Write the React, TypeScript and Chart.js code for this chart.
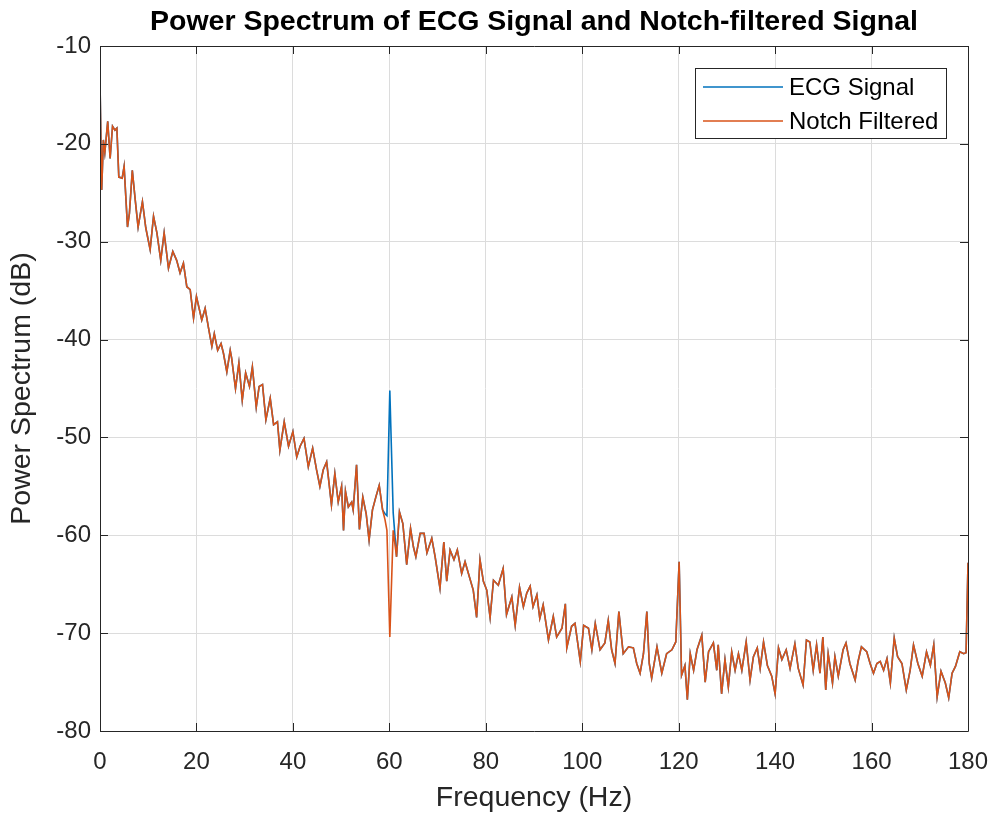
import React, { useEffect, useRef } from "react";
import { Chart, registerables } from "chart.js";

Chart.register(...registerables);

const TITLE = "Power Spectrum of ECG Signal and Notch-filtered Signal";
const X_LABEL = "Frequency (Hz)";
const Y_LABEL = "Power Spectrum (dB)";
const SERIES_NAMES = ["ECG Signal", "Notch Filtered"];
const X_TICKS = [0, 20, 40, 60, 80, 100, 120, 140, 160, 180];
const Y_TICKS = [-80, -70, -60, -50, -40, -30, -20, -10];

// Notch-filtered spectrum (Hz, dB)
const freqs = [
  0, 0.35, 0.7, 1.0, 1.6, 2.1, 2.6, 3.1, 3.5, 3.9, 4.6, 5.0, 5.7, 6.1, 6.7, 7.3, 7.9, 8.8, 9.5,
  10.4, 11.1, 11.8, 12.6, 13.3, 14.2, 15.1, 15.9, 16.6, 17.3, 18.0, 18.7, 19.4, 20.0, 21.1, 21.8,
  22.5, 23.2, 23.7, 24.4, 25.1, 25.6, 26.3, 27.0, 27.3, 28.1, 28.8, 29.5, 30.2, 31.0, 31.6, 32.4,
  33.0, 33.7, 34.4, 35.3, 36.0, 36.8, 37.3, 38.2, 39.1, 40.0, 40.8, 41.5, 42.3, 43.2, 44.1, 44.9,
  45.6, 46.3, 47.0, 48.0, 48.7, 49.4, 50.1, 50.5, 50.9, 51.5, 52.2, 52.5, 53.2, 53.8, 54.5, 55.2,
  55.8, 56.5, 57.2, 57.9, 58.6, 59.1, 59.5, 60.1, 60.8, 61.5, 62.1, 62.8, 63.6, 64.4, 65.0, 65.5,
  66.4, 67.2, 67.8, 68.8, 69.5, 70.5, 71.3, 71.9, 72.6, 73.4, 74.1, 75.0, 75.7, 76.4, 77.4, 78.1,
  78.8, 79.5, 80.2, 80.9, 81.6, 82.6, 83.6, 84.3, 85.4, 86.1, 87.0, 87.8, 88.5, 89.2, 89.8, 90.6,
  91.2, 91.9, 93.0, 94.0, 94.7, 95.8, 96.5, 96.8, 97.8, 98.5, 99.6, 100.3, 101.3, 102.0, 102.7,
  103.7, 104.7, 105.4, 106.1, 106.8, 107.6, 108.5, 109.6, 110.6, 111.3, 112.0, 112.7, 113.4, 113.9,
  114.4, 115.5, 116.5, 117.5, 118.6, 119.4, 120.1, 120.6, 121.3, 121.8, 122.4, 123.1, 123.8, 124.8,
  125.5, 126.2, 127.2, 127.9, 128.2, 128.9, 129.6, 130.3, 131.0, 131.7, 132.4, 133.1, 134.0, 134.8,
  135.5, 136.3, 136.9, 137.6, 138.4, 139.3, 140.0, 140.7, 141.4, 142.3, 143.1, 144.1, 144.8, 145.8,
  146.5, 147.2, 147.9, 148.6, 149.3, 149.9, 150.5, 151.0, 151.9, 152.4, 153.1, 154.1, 154.7, 155.5,
  156.6, 157.2, 157.9, 159.0, 159.7, 160.4, 161.1, 161.8, 162.5, 163.2, 163.9, 164.7, 165.4, 166.3,
  167.2, 168.0, 168.7, 169.6, 170.5, 171.4, 172.2, 172.9, 173.6, 174.4, 175.3, 176.0, 176.7, 177.4,
  178.3, 179.1, 179.6, 180.0,
];

const notchValues = [
  -13.6, -24.7, -19.6, -20.9, -17.7, -21.5, -18.2, -18.6, -18.4, -23.4, -23.5, -22.3, -28.5, -27.1, -22.7, -25.7, -28.5, -25.9, -28.6,
  -30.8, -27.4, -29.1, -31.9, -29.1, -32.7, -31.0, -31.9, -33.2, -32.2, -34.6, -34.9, -37.8, -35.6, -38.0, -36.8,
  -38.8, -40.7, -39.4, -41.1, -40.4, -41.4, -43.3, -41.1, -41.9, -45.0, -42.4, -46.2, -43.4, -44.8, -42.8, -46.9,
  -44.8, -44.6, -48.2, -46.0, -48.7, -48.4, -51.3, -48.4, -50.9, -49.4, -52.0, -50.9, -50.1, -53.0, -51.1, -53.3,
  -55.0, -53.3, -52.5, -56.9, -53.7, -56.6, -55.0, -59.5, -55.5, -57.1, -56.6, -57.4, -52.8, -59.4, -56.1, -57.8,
  -60.5, -57.4, -56.1, -54.9, -57.4, -58.4, -59.5, -70.4, -59.5, -62.2, -57.6, -58.8, -63.0, -59.3, -61.2, -62.2,
  -59.8, -59.8, -61.8, -60.3, -62.2, -65.4, -60.7, -64.7, -61.5, -62.5, -61.5, -63.9, -62.7, -63.9, -65.6, -68.4,
  -62.5, -64.7, -65.6, -68.4, -64.6, -65.1, -63.4, -68.1, -66.3, -69.2, -65.3, -67.3, -65.9, -65.2, -67.3, -66.1,
  -68.5, -67.1, -70.7, -68.3, -70.4, -69.5, -67.0, -71.5, -69.3, -69.0, -72.9, -69.2, -69.5, -71.7, -69.0,
  -71.7, -71.0, -68.7, -71.7, -73.1, -67.8, -72.1, -71.4, -71.5, -73.1, -74.1, -72.1, -67.8, -73.1,
  -74.6, -71.4, -74.1, -72.1, -71.7, -70.9, -62.7, -74.3, -73.3, -76.8, -72.1, -73.8, -71.7, -70.2,
  -75.0, -71.9, -71.0, -73.8, -71.2, -76.2, -72.7, -75.5, -71.9, -73.8, -72.1, -73.8, -70.9, -74.8,
  -72.4, -71.5, -73.6, -70.9, -73.3, -74.4, -76.2, -71.5, -72.7, -71.7, -73.6, -71.1, -73.6, -75.3,
  -70.7, -70.9, -73.8, -71.2, -74.1, -70.4, -75.8, -72.1, -75.1, -72.4, -74.4, -71.7, -71.0, -73.1,
  -74.8, -72.9, -71.4, -71.9, -73.1, -74.1, -73.1, -72.9, -73.8, -72.6, -75.1, -70.5, -72.4, -73.1,
  -75.8, -73.8, -71.2, -73.1, -74.4, -71.9, -73.3, -71.2, -76.5, -73.9, -75.1, -76.6, -74.1, -73.4,
  -71.9, -72.1, -72.0, -62.8,
];

// Original ECG spectrum differs only around the 60 Hz mains line
const ecgPeakFreqs = [59.1, 59.5, 60.1, 60.8];
const ecgPeakValues = [-57.8, -58.0, -45.2, -57.7];

const BLUE = "#0072BD";
const ORANGE = "#D95319";
const AXIS = "#262626";
const GRID = "#dcdcdc";
const FONT = "'Liberation Sans', Arial, Helvetica, sans-serif";

const frameAndLegend = {
  id: "frameAndLegend",
  afterDraw(chart: any) {
    const { ctx, chartArea: a } = chart;
    const xs = chart.scales.x;
    const ys = chart.scales.y;
    ctx.save();
    // box
    ctx.strokeStyle = AXIS;
    ctx.lineWidth = 1;
    ctx.beginPath();
    ctx.rect(Math.round(a.left) + 0.5, Math.round(a.top) + 0.5, Math.round(a.right - a.left), Math.round(a.bottom - a.top));
    ctx.stroke();
    // inward ticks
    const tl = 8;
    ctx.beginPath();
    X_TICKS.forEach((t) => {
      const px = Math.round(xs.getPixelForValue(t)) + 0.5;
      ctx.moveTo(px, a.bottom);
      ctx.lineTo(px, a.bottom - tl);
      ctx.moveTo(px, a.top);
      ctx.lineTo(px, a.top + tl);
    });
    Y_TICKS.forEach((t) => {
      const py = Math.round(ys.getPixelForValue(t)) + 0.5;
      ctx.moveTo(a.left, py);
      ctx.lineTo(a.left + tl, py);
      ctx.moveTo(a.right, py);
      ctx.lineTo(a.right - tl, py);
    });
    ctx.stroke();

    // title
    ctx.fillStyle = "#000000";
    ctx.font = `bold 28.5px ${FONT}`;
    ctx.textAlign = "center";
    ctx.textBaseline = "alphabetic";
    ctx.fillText(TITLE, (a.left + a.right) / 2, 30);

    // legend
    const lx = 695, ly = 68, lw = 251, lh = 70;
    ctx.fillStyle = "#ffffff";
    ctx.fillRect(lx, ly, lw, lh);
    ctx.strokeStyle = AXIS;
    ctx.strokeRect(lx + 0.5, ly + 0.5, lw, lh);
    const rows = [
      { name: SERIES_NAMES[0], color: BLUE, y: 87 },
      { name: SERIES_NAMES[1], color: ORANGE, y: 121 },
    ];
    ctx.font = `24px ${FONT}`;
    ctx.textAlign = "left";
    ctx.textBaseline = "middle";
    rows.forEach((r) => {
      ctx.strokeStyle = r.color;
      ctx.lineWidth = 1.5;
      ctx.beginPath();
      ctx.moveTo(703, r.y);
      ctx.lineTo(783, r.y);
      ctx.stroke();
      ctx.fillStyle = "#000000";
      ctx.fillText(r.name, 789, r.y + 1);
    });
    ctx.restore();
  },
};

export default function App() {
  const ref = useRef<HTMLCanvasElement | null>(null);

  useEffect(() => {
    document.body.style.margin = "0";
    const notchData = freqs.map((f, i) => ({ x: f, y: notchValues[i] }));
    const ecgData = freqs.map((f, i) => {
      const k = ecgPeakFreqs.indexOf(f);
      return { x: f, y: k >= 0 ? ecgPeakValues[k] : notchValues[i] };
    });
    const chart = new Chart(ref.current as HTMLCanvasElement, {
      type: "line",
      data: {
        datasets: [
          {
            label: SERIES_NAMES[0],
            data: ecgData,
            borderColor: BLUE,
            borderWidth: 1.6,
            pointRadius: 0,
            tension: 0,
            order: 1,
          },
          {
            label: SERIES_NAMES[1],
            data: notchData,
            borderColor: ORANGE,
            borderWidth: 1.6,
            pointRadius: 0,
            tension: 0,
            order: 0,
          },
        ],
      },
      options: {
        animation: false,
        responsive: false,
        devicePixelRatio: 1,
        layout: { padding: { top: 46, right: 25, left: 0, bottom: 0 } },
        plugins: {
          legend: { display: false },
          tooltip: { enabled: false },
          title: { display: false },
        },
        scales: {
          x: {
            type: "linear",
            min: 0,
            max: 180,
            afterFit: (s: any) => {
              s.height = 86;
              s.paddingLeft = 0;
              s.paddingRight = 0;
            },
            afterBuildTicks: (s: any) => {
              s.ticks = X_TICKS.map((v) => ({ value: v }));
            },
            border: { display: false },
            grid: { color: GRID, drawTicks: false, lineWidth: 1 },
            ticks: {
              color: AXIS,
              font: { family: FONT, size: 24 },
              padding: 17,
              maxRotation: 0,
            },
            title: {
              display: true,
              text: X_LABEL,
              color: AXIS,
              font: { family: FONT, size: 28.5 },
              padding: { top: 0, bottom: 2 },
            },
          },
          y: {
            type: "linear",
            min: -80,
            max: -10,
            afterFit: (s: any) => {
              s.width = 100;
              s.paddingTop = 0;
              s.paddingBottom = 0;
            },
            afterBuildTicks: (s: any) => {
              s.ticks = Y_TICKS.map((v) => ({ value: v }));
            },
            border: { display: false },
            grid: { color: GRID, drawTicks: false, lineWidth: 1 },
            ticks: {
              color: AXIS,
              font: { family: FONT, size: 24 },
              padding: 9,
            },
            title: {
              display: true,
              text: Y_LABEL,
              color: AXIS,
              font: { family: FONT, size: 28.5 },
              padding: { top: 5, bottom: 0 },
            },
          },
        },
      },
      plugins: [frameAndLegend],
    });
    return () => chart.destroy();
  }, []);

  return (
    <div style={{ width: 993, height: 817, background: "#ffffff" }}>
      <canvas ref={ref} width={993} height={817} style={{ display: "block" }} />
    </div>
  );
}
